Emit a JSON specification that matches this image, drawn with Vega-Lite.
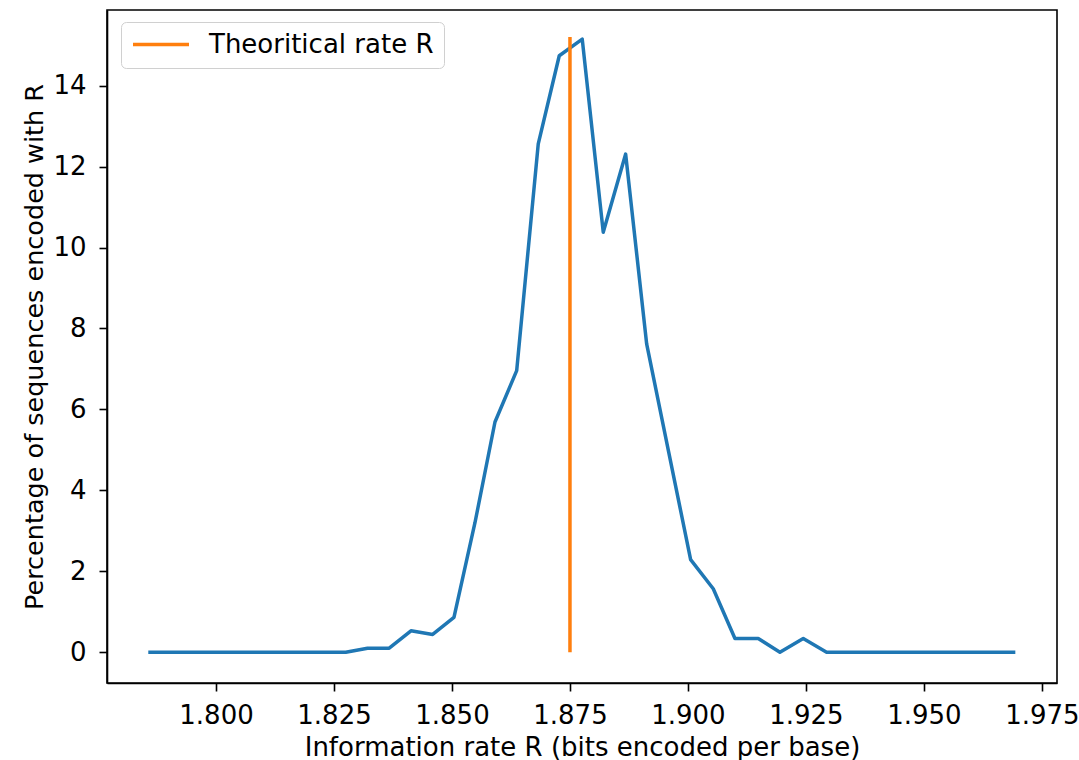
{
  "$schema": "https://vega.github.io/schema/vega-lite/v6.json",
  "width": 950,
  "height": 673,
  "autosize": {"type": "none"},
  "padding": {"left": 107, "top": 10, "right": 22, "bottom": 77},
  "background": "white",
  "datasets": {
    "curve": [
      {"rate": 1.78602, "pct": 0},
      {"rate": 1.79063, "pct": 0},
      {"rate": 1.79523, "pct": 0},
      {"rate": 1.79984, "pct": 0},
      {"rate": 1.80445, "pct": 0},
      {"rate": 1.80906, "pct": 0},
      {"rate": 1.81366, "pct": 0},
      {"rate": 1.81827, "pct": 0},
      {"rate": 1.82288, "pct": 0},
      {"rate": 1.82749, "pct": 0},
      {"rate": 1.83210, "pct": 0.1},
      {"rate": 1.83670, "pct": 0.1},
      {"rate": 1.84131, "pct": 0.53},
      {"rate": 1.84591, "pct": 0.44},
      {"rate": 1.85042, "pct": 0.86},
      {"rate": 1.85487, "pct": 3.2},
      {"rate": 1.85911, "pct": 5.69},
      {"rate": 1.86371, "pct": 6.96},
      {"rate": 1.86828, "pct": 12.56},
      {"rate": 1.87273, "pct": 14.74},
      {"rate": 1.87760, "pct": 15.15},
      {"rate": 1.88205, "pct": 10.38},
      {"rate": 1.88680, "pct": 12.31},
      {"rate": 1.89125, "pct": 7.62},
      {"rate": 1.89591, "pct": 4.95},
      {"rate": 1.90057, "pct": 2.29},
      {"rate": 1.90536, "pct": 1.57},
      {"rate": 1.90996, "pct": 0.34},
      {"rate": 1.91489, "pct": 0.34},
      {"rate": 1.91949, "pct": 0},
      {"rate": 1.92443, "pct": 0.34},
      {"rate": 1.92938, "pct": 0},
      {"rate": 1.93426, "pct": 0},
      {"rate": 1.93915, "pct": 0},
      {"rate": 1.94402, "pct": 0},
      {"rate": 1.94890, "pct": 0},
      {"rate": 1.95379, "pct": 0},
      {"rate": 1.95866, "pct": 0},
      {"rate": 1.96354, "pct": 0},
      {"rate": 1.96900, "pct": 0}
    ],
    "theory": [
      {"rate": 1.875, "low": 0, "high": 15.2, "series": "Theoritical rate R"}
    ]
  },
  "layer": [
    {
      "data": {"name": "curve"},
      "mark": {"type": "line", "color": "#1f77b4", "strokeWidth": 3.5, "strokeJoin": "round", "strokeCap": "square"},
      "encoding": {
        "x": {
          "field": "rate", "type": "quantitative",
          "scale": {"domain": [1.7769, 1.9782], "nice": false, "zero": false},
          "axis": {
            "title": "Information rate R (bits encoded per base)",
            "values": [1.8, 1.825, 1.85, 1.875, 1.9, 1.925, 1.95, 1.975],
            "format": ".3f",
            "labelPadding": 11,
            "titlePadding": 6
          }
        },
        "y": {
          "field": "pct", "type": "quantitative",
          "scale": {"domain": [-0.76, 15.87], "nice": false, "zero": false},
          "axis": {
            "title": "Percentage of sequences encoded with R",
            "values": [0, 2, 4, 6, 8, 10, 12, 14],
            "labelPadding": 13,
            "titlePadding": 5,
            "titleFontSize": 25.5
          }
        }
      }
    },
    {
      "data": {"name": "theory"},
      "mark": {"type": "rule", "strokeWidth": 3.5},
      "encoding": {
        "x": {"field": "rate", "type": "quantitative"},
        "y": {"field": "low", "type": "quantitative"},
        "y2": {"field": "high"},
        "color": {
          "field": "series", "type": "nominal",
          "scale": {"range": ["#ff7f0e"]},
          "legend": {
            "title": null,
            "orient": "none",
            "legendX": 14,
            "legendY": 12,
            "symbolType": "stroke",
            "symbolSize": 3136,
            "symbolStrokeWidth": 3.5,
            "clipHeight": 25,
            "labelFontSize": 26,
            "labelFont": "DejaVu Sans",
            "labelColor": "#000000",
            "labelLimit": 400,
            "labelOffset": 18,
            "padding": 10,
            "cornerRadius": 5,
            "strokeColor": "#d0d0d0",
            "fillColor": "rgba(255,255,255,0.8)"
          }
        }
      }
    }
  ],
  "config": {
    "view": {"stroke": "#000000", "strokeWidth": 1.6},
    "axis": {
      "grid": false,
      "domainColor": "#000000",
      "domainWidth": 1.6,
      "tickColor": "#000000",
      "tickWidth": 1.6,
      "tickSize": 8,
      "labelFont": "DejaVu Sans",
      "labelFontSize": 26,
      "labelColor": "#000000",
      "titleFont": "DejaVu Sans",
      "titleFontSize": 26,
      "titleFontWeight": "normal",
      "titleColor": "#000000"
    }
  }
}
